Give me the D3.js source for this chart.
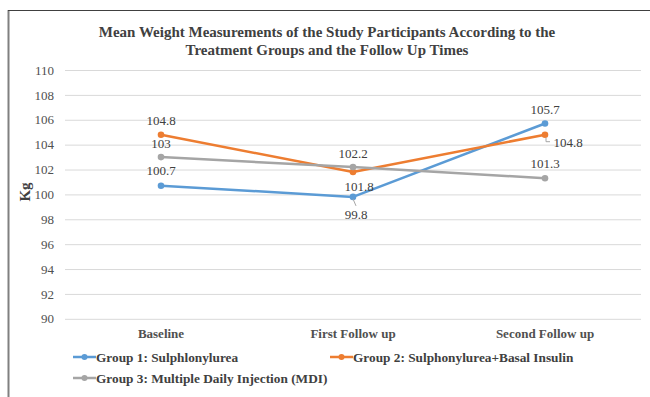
<!DOCTYPE html>
<html><head><meta charset="utf-8">
<script src="https://cdn.jsdelivr.net/npm/d3@7"></script>
<style>
body{margin:0;background:#fff;}
svg text{font-family:"Liberation Serif","Times New Roman",serif;}
</style></head>
<body><svg id="c" width="650" height="397"></svg>
<script>
const categories = ["Baseline", "First Follow up", "Second Follow up"];
const group1 = [100.7, 99.8, 105.7];
const group2 = [104.8, 101.8, 104.8];
const group3 = [103, 102.2, 101.3];
const seriesNames = ["Group 1: Sulphlonylurea", "Group 2: Sulphonylurea+Basal Insulin", "Group 3: Multiple Daily Injection (MDI)"];
const colors = ["#5B9BD5", "#ED7D31", "#A5A5A5"];
const yTicks = [90, 92, 94, 96, 98, 100, 102, 104, 106, 108, 110];
const titleLines = ["Mean Weight Measurements of the Study Participants According to the", "Treatment Groups and the Follow Up Times"];
// label placement per series, per point: [dx, dy] offsets
const labelPos = [
  [[0,-15],[3,18],[0,-14]],
  [[0,-14],[6,14],[23,8]],
  [[0,-14],[0,-14],[0,-15]]
];

const svg = d3.select("#c");
// frame
svg.append("line").attr("x1",8.5).attr("x2",8.5).attr("y1",10).attr("y2",397).attr("stroke","#808080").attr("stroke-width",2);
svg.append("line").attr("x1",8).attr("x2",650).attr("y1",10.5).attr("y2",10.5).attr("stroke","#404040").attr("stroke-width",1);

const x = d3.scaleBand().domain(categories).range([65, 641]);
const y = d3.scaleLinear().domain([90, 110]).range([318.8, 70]);

// title
svg.append("g").selectAll("text").data(titleLines).join("text")
  .attr("x", 327).attr("y", (d,i)=>37 + i*17.5).attr("text-anchor","middle")
  .attr("font-size","15px").attr("font-weight","bold").attr("fill","#404040").text(d=>d);

// grid + y axis
const yAxis = d3.axisLeft(y).tickValues(yTicks).tickSize(-576).tickPadding(11).tickFormat(d3.format("d"));
const gy = svg.append("g").attr("transform","translate(65,0)").call(yAxis);
gy.select(".domain").remove();
gy.selectAll(".tick line").attr("stroke","#D9D9D9").attr("stroke-width",1);
gy.selectAll(".tick text").attr("font-size","13px").attr("fill","#505050").attr("font-family","Liberation Serif, serif");

// x axis labels
const xAxis = d3.axisBottom(x).tickSize(0).tickPadding(10);
const gx = svg.append("g").attr("transform","translate(0,318.8)").call(xAxis);
gx.select(".domain").remove();
gx.selectAll(".tick text").attr("font-size","13px").attr("font-weight","bold").attr("fill","#505050").attr("font-family","Liberation Serif, serif");

// y title
svg.append("text").attr("transform","translate(30,192) rotate(-90)").attr("text-anchor","middle")
  .attr("font-size","15px").attr("font-weight","bold").attr("fill","#404040").text("Kg");

const series = [group1, group2, group3];
const cx = c => x(c) + x.bandwidth()/2;
const line = d3.line().x((d,i)=>cx(categories[i])).y(d=>y(d));

series.forEach((vals, s) => {
  const g = svg.append("g");
  g.append("path").attr("d", line(vals)).attr("fill","none").attr("stroke",colors[s]).attr("stroke-width",2.5).attr("stroke-linejoin","round");
  g.selectAll("circle").data(vals).join("circle")
    .attr("cx",(d,i)=>cx(categories[i])).attr("cy",d=>y(d)).attr("r",3.3).attr("fill",colors[s]);
});

// data labels
series.forEach((vals, s) => {
  vals.forEach((v, i) => {
    const px = cx(categories[i]), py = y(v);
    const [dx, dy] = labelPos[s][i];
    svg.append("text").attr("x", px+dx).attr("y", py+dy).attr("dy","0.35em")
      .attr("text-anchor","middle").attr("font-size","13px").attr("fill","#404040").text(String(v));
  });
});
// leader lines for 99.8 and 104.8 (second)
{
  const px = cx(categories[1]), py = y(group1[1]);
  svg.append("path").attr("d",`M${px},${py+2} L${px+3},${py+9}`).attr("stroke","#A6A6A6").attr("fill","none");
  const qx = cx(categories[2]), qy = y(group2[2]);
  svg.append("path").attr("d",`M${qx+1},${qy+3} L${qx+1},${qy+7} L${qx+5},${qy+7}`).attr("stroke","#A6A6A6").attr("fill","none");
}

// legend
const legendItems = [
  {x:73, y:357, i:0},
  {x:330, y:357, i:1},
  {x:73, y:378, i:2}
];
const lg = svg.append("g").selectAll("g").data(legendItems).join("g").attr("transform",d=>`translate(${d.x},${d.y})`);
lg.append("line").attr("x1",0).attr("x2",23).attr("stroke",d=>colors[d.i]).attr("stroke-width",2.5);
lg.append("circle").attr("cx",11.5).attr("r",3).attr("fill",d=>colors[d.i]);
lg.append("text").attr("x",23).attr("dy","0.35em").attr("font-size","13.3px").attr("font-weight","bold").attr("fill","#404040").text(d=>seriesNames[d.i]);
</script></body></html>
